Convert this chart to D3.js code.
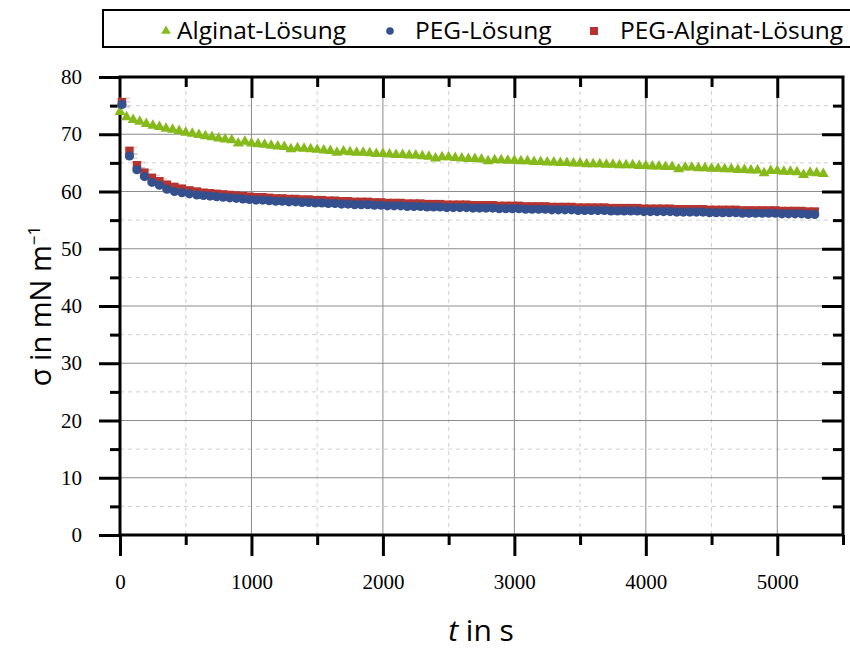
<!DOCTYPE html>
<html>
<head>
<meta charset="utf-8">
<script src="https://cdn.jsdelivr.net/npm/d3@7"></script>
<style>
  body { margin: 0; background: #fff; }
  svg { display: block; }
  .tick text { font-family: "Liberation Serif", "DejaVu Serif", serif; font-size: 21px; fill: #000; }
</style>
</head>
<body>
<div id="chart"></div>
<script>
// data
const seriesNames = ["Alginat-Lösung", "PEG-Lösung", "PEG-Alginat-Lösung"];

const algTime = [0,50,100,150,200,250,300,350,400,450,500,550,600,650,700,750,800,850,900,950,
  1000,1050,1100,1150,1200,1250,1300,1350,1400,1450,1500,1550,1600,1650,1700,1750,1800,1850,1900,1950,
  2000,2050,2100,2150,2200,2250,2300,2350,2400,2450,2500,2550,2600,2650,2700,2750,2800,2850,2900,2950,
  3000,3050,3100,3150,3200,3250,3300,3350,3400,3450,3500,3550,3600,3650,3700,3750,3800,3850,3900,3950,
  4000,4050,4100,4150,4200,4250,4300,4350,4400,4450,4500,4550,4600,4650,4700,4750,4800,4850,4900,4950,
  5000,5050,5100,5150,5200,5250,5300,5350];
const algSigma = [73.9,73.0,72.5,72.2,71.8,71.5,71.3,71.0,70.8,70.6,70.3,70.1,69.9,69.7,69.5,69.3,69.1,69.0,68.4,68.7,
  68.4,68.3,68.2,68.0,67.9,67.8,67.4,67.6,67.5,67.4,67.3,67.2,67.1,66.8,67.0,66.9,66.8,66.8,66.7,66.6,
  66.6,66.5,66.4,66.4,66.3,66.3,66.2,66.1,65.8,66.0,66.0,65.9,65.8,65.7,65.7,65.6,65.3,65.5,65.5,65.4,
  65.4,65.3,65.3,65.2,65.2,65.1,65.1,65.0,65.0,64.9,64.9,64.8,64.8,64.8,64.7,64.7,64.6,64.6,64.6,64.5,
  64.5,64.4,64.4,64.3,64.3,63.9,64.2,64.2,64.1,64.1,64.0,64.0,63.9,63.9,63.8,63.8,63.7,63.7,63.2,63.6,
  63.6,63.5,63.5,63.4,62.9,63.3,63.2,63.1];

const pegTime = [15,72,129,186,243,300,357,414,471,528,585,
  635,685,735,785,835,885,935,985,
  1035,1085,1135,1185,1235,1285,1335,1385,1435,1485,
  1535,1585,1635,1685,1735,1785,1835,1885,1935,1985,
  2035,2085,2135,2185,2235,2285,2335,2385,2435,2485,
  2535,2585,2635,2685,2735,2785,2835,2885,2935,2985,
  3035,3085,3135,3185,3235,3285,3335,3385,3435,3485,
  3535,3585,3635,3685,3735,3785,3835,3885,3935,3985,
  4035,4085,4135,4185,4235,4285,4335,4385,4435,4485,
  4535,4585,4635,4685,4735,4785,4835,4885,4935,4985,
  5035,5085,5135,5185,5235,5285];
const pegSigma = [75.2,66.2,63.8,62.6,61.6,61.1,60.4,60.0,59.8,59.6,59.4,
  59.3,59.2,59.1,59.0,58.9,58.8,58.7,58.6,
  58.5,58.5,58.4,58.3,58.3,58.2,58.2,58.1,58.1,58.0,
  58.0,57.9,57.9,57.8,57.8,57.7,57.7,57.7,57.6,57.6,
  57.5,57.5,57.5,57.4,57.4,57.4,57.3,57.3,57.3,57.2,
  57.2,57.2,57.2,57.1,57.1,57.1,57.1,57.0,57.0,57.0,
  57.0,56.9,56.9,56.9,56.9,56.8,56.8,56.8,56.8,56.7,
  56.7,56.7,56.7,56.7,56.6,56.6,56.6,56.6,56.6,56.5,
  56.5,56.5,56.5,56.5,56.4,56.4,56.4,56.4,56.4,56.3,
  56.3,56.3,56.3,56.3,56.2,56.2,56.2,56.2,56.2,56.2,
  56.1,56.1,56.1,56.1,56.0,56.0];
const pegErr = [0.5,0.4,0.4,0.3,0.3,0.3,0.2,0.2];

const mixTime = pegTime;
const mixSigma = [75.6,67.1,64.6,63.3,62.4,61.8,61.2,60.8,60.5,60.2,60.0,
  59.8,59.7,59.6,59.5,59.4,59.3,59.2,59.1,
  59.0,59.0,58.9,58.8,58.8,58.7,58.7,58.6,58.6,58.5,
  58.5,58.4,58.4,58.3,58.3,58.2,58.2,58.2,58.1,58.1,
  58.0,58.0,58.0,57.9,57.9,57.9,57.8,57.8,57.8,57.7,
  57.7,57.7,57.7,57.6,57.6,57.6,57.6,57.5,57.5,57.5,
  57.5,57.4,57.4,57.4,57.4,57.3,57.3,57.3,57.3,57.2,
  57.2,57.2,57.2,57.2,57.1,57.1,57.1,57.1,57.1,57.0,
  57.0,57.0,57.0,57.0,56.9,56.9,56.9,56.9,56.9,56.8,
  56.8,56.8,56.8,56.8,56.7,56.7,56.7,56.7,56.7,56.7,
  56.6,56.6,56.6,56.6,56.5,56.5];
const mixErr = [0.7,0.6,0.5,0.5,0.4,0.4,0.3,0.3];

const xTicks = [0,1000,2000,3000,4000,5000];
const xMinor = [500,1500,2500,3500,4500,5500];
const yTicks = [0,10,20,30,40,50,60,70,80];
const yMinor = [5,15,25,35,45,55,65,75];

const W = 850, H = 652;
const green = "#86b91a", blue = "#34508e", red = "#b5342f";

const svg = d3.select("#chart").append("svg").attr("width", W).attr("height", H);

let x = d3.scaleLinear().domain([0, 5500]).range([120, 843]);
let y = d3.scaleLinear().domain([0, 80]).range([535, 77]);

// grid
let grid = svg.append("g");
grid.selectAll(".gx").data(xMinor.filter(d => d < 5500)).enter().append("line")
  .attr("x1", d => x(d)).attr("x2", d => x(d)).attr("y1", y(0)).attr("y2", y(80))
  .attr("stroke", "#d0d0d0").attr("stroke-dasharray", "4,4");
grid.selectAll(".gy").data(yMinor).enter().append("line")
  .attr("x1", x(0)).attr("x2", x(5500)).attr("y1", d => y(d)).attr("y2", d => y(d))
  .attr("stroke", "#d0d0d0").attr("stroke-dasharray", "4,4");
grid.selectAll(".gxm").data(xTicks.slice(1)).enter().append("line")
  .attr("x1", d => x(d)).attr("x2", d => x(d)).attr("y1", y(0)).attr("y2", y(80))
  .attr("stroke", "#8c8c8c").attr("stroke-width", 1);
grid.selectAll(".gym").data(yTicks.slice(1, -1)).enter().append("line")
  .attr("x1", x(0)).attr("x2", x(5500)).attr("y1", d => y(d)).attr("y2", d => y(d))
  .attr("stroke", "#8c8c8c").attr("stroke-width", 1);

// axes
function styleAxis(g) {
  g.select(".domain").remove();
  g.selectAll(".tick line").attr("stroke", "#000").attr("stroke-width", 3);
}
svg.append("g").attr("transform", `translate(0,${y(0)})`)
  .call(d3.axisBottom(x).tickValues(xTicks).tickSize(21).tickPadding(18).tickFormat(d3.format("d"))).call(styleAxis);
svg.append("g").attr("transform", `translate(0,${y(0)})`)
  .call(d3.axisBottom(x).tickValues(xMinor).tickSize(10).tickFormat("")).call(styleAxis);
svg.append("g").attr("transform", `translate(${x(0)},0)`)
  .call(d3.axisLeft(y).tickValues(yTicks).tickSize(21).tickPadding(17).tickFormat(d3.format("d"))).call(styleAxis);
svg.append("g").attr("transform", `translate(${x(0)},0)`)
  .call(d3.axisLeft(y).tickValues(yMinor).tickSize(10).tickFormat("")).call(styleAxis);
// inward ticks top and right
svg.append("g").attr("transform", `translate(0,${y(80)})`)
  .call(d3.axisTop(x).tickValues(xTicks.slice(1)).tickSize(-21).tickFormat("")).call(styleAxis);
svg.append("g").attr("transform", `translate(0,${y(80)})`)
  .call(d3.axisTop(x).tickValues(xMinor.slice(0, -1)).tickSize(-10).tickFormat("")).call(styleAxis);
svg.append("g").attr("transform", `translate(${x(5500)},0)`)
  .call(d3.axisRight(y).tickValues(yTicks.slice(1, -1)).tickSize(-21).tickFormat("")).call(styleAxis);
svg.append("g").attr("transform", `translate(${x(5500)},0)`)
  .call(d3.axisRight(y).tickValues(yMinor).tickSize(-10).tickFormat("")).call(styleAxis);

svg.append("rect").attr("x", x(0)).attr("y", y(80))
  .attr("width", x(5500) - x(0)).attr("height", y(0) - y(80))
  .attr("fill", "none").attr("stroke", "#000").attr("stroke-width", 3);

// error bars
function errBars(times, vals, errs, col) {
  let g = svg.append("g").attr("stroke", col).attr("stroke-width", 1.5).attr("opacity", 0.45);
  errs.forEach((e, i) => {
    let cx = x(times[i]);
    g.append("line").attr("x1", cx).attr("x2", cx).attr("y1", y(vals[i] - e)).attr("y2", y(vals[i] + e));
    [vals[i] - e, vals[i] + e].forEach(v => {
      g.append("line").attr("x1", cx - 5).attr("x2", cx + 8).attr("y1", y(v)).attr("y2", y(v));
    });
  });
}
errBars(mixTime, mixSigma, mixErr, "#d89a98");
errBars(pegTime, pegSigma, pegErr, "#aaaaaa");

// markers
const tri = d3.symbol().type(d3.symbolTriangle).size(52);
svg.append("g").selectAll("path").data(algTime.map((t, i) => [t, algSigma[i]])).enter().append("path")
  .attr("d", tri).attr("transform", d => `translate(${x(d[0])},${y(d[1])})`).attr("fill", green);

svg.append("g").selectAll("rect").data(mixTime.map((t, i) => [t, mixSigma[i]])).enter().append("rect")
  .attr("x", d => x(d[0]) - 4.2).attr("y", d => y(d[1]) - 4.2).attr("width", 8.4).attr("height", 8.4).attr("fill", red);

svg.append("g").selectAll("circle").data(pegTime.map((t, i) => [t, pegSigma[i]])).enter().append("circle")
  .attr("cx", d => x(d[0])).attr("cy", d => y(d[1])).attr("r", 4.6).attr("fill", blue);

// axis titles
const sans = "'Open Sans', 'Noto Sans', sans-serif";
let xt = svg.append("text").attr("x", 481).attr("y", 641).attr("text-anchor", "middle")
  .style("font-family", sans).style("font-size", "30px");
xt.append("tspan").style("font-style", "italic").text("t");
xt.append("tspan").text(" in s");

let yt = svg.append("text").attr("transform", "translate(51,306) rotate(-90)").attr("text-anchor", "middle")
  .style("font-family", sans).style("font-size", "29px");
yt.append("tspan").text("σ in mN m");
yt.append("tspan").attr("dy", -11).style("font-size", "17px").text("−1");

// legend
let leg = svg.append("g");
leg.append("rect").attr("x", 103).attr("y", 10).attr("width", 760).attr("height", 37)
  .attr("fill", "#fff").attr("stroke", "#000").attr("stroke-width", 2);
const legX = [166, 390, 594];
const legTextX = [177, 415, 620];
leg.append("path").attr("d", d3.symbol().type(d3.symbolTriangle).size(40))
  .attr("transform", `translate(${legX[0]},31)`).attr("fill", green);
leg.append("circle").attr("cx", legX[1]).attr("cy", 31).attr("r", 3.8).attr("fill", blue);
leg.append("rect").attr("x", legX[2] - 4).attr("y", 27).attr("width", 8).attr("height", 8).attr("fill", red);
leg.selectAll("text.lg").data(seriesNames).enter().append("text")
  .attr("x", (d, i) => legTextX[i]).attr("y", 39)
  .style("font-family", sans).style("font-size", "24.5px").text(d => d);
</script>
</body>
</html>
